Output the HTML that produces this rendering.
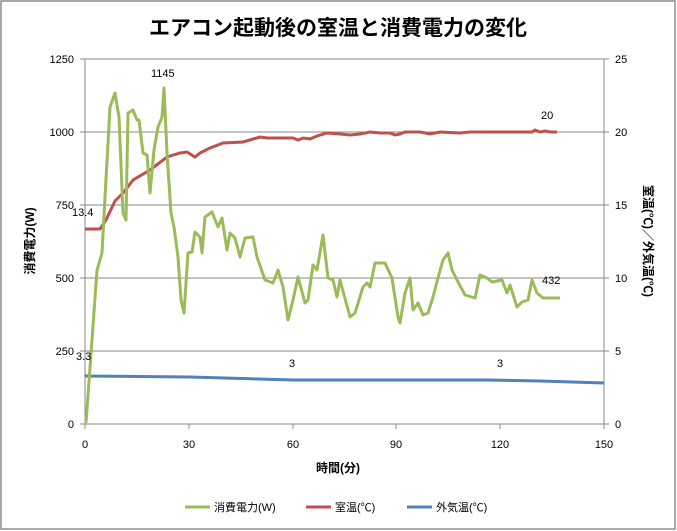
<!DOCTYPE html>
<html><head><meta charset="utf-8"><style>
body{margin:0;background:#fff;}
svg{display:block;font-family:"Liberation Sans","Noto Sans CJK JP",sans-serif;}
</style></head><body>
<svg width="677" height="531" viewBox="0 0 677 531">
<rect x="1" y="1" width="674" height="528" fill="#fff" stroke="#8c8c8c" stroke-width="1.5"/>
<text x="338" y="35" font-size="21" font-weight="bold" text-anchor="middle" fill="#000">エアコン起動後の室温と消費電力の変化</text>
<g stroke="#8a8a8a" stroke-width="1">
<line x1="85" y1="59" x2="604" y2="59"/><line x1="85" y1="132" x2="604" y2="132"/>
<line x1="85" y1="205" x2="604" y2="205"/><line x1="85" y1="278" x2="604" y2="278"/>
<line x1="85" y1="351" x2="604" y2="351"/><line x1="85" y1="424" x2="604" y2="424"/>
<line x1="85" y1="59" x2="85" y2="424"/><line x1="604" y1="59" x2="604" y2="424"/>
<line x1="80" y1="59" x2="85" y2="59"/><line x1="80" y1="132" x2="85" y2="132"/><line x1="80" y1="205" x2="85" y2="205"/><line x1="80" y1="278" x2="85" y2="278"/><line x1="80" y1="351" x2="85" y2="351"/><line x1="80" y1="424" x2="85" y2="424"/>
<line x1="604" y1="59" x2="609" y2="59"/><line x1="604" y1="132" x2="609" y2="132"/><line x1="604" y1="205" x2="609" y2="205"/><line x1="604" y1="278" x2="609" y2="278"/><line x1="604" y1="351" x2="609" y2="351"/><line x1="604" y1="424" x2="609" y2="424"/>
<line x1="85" y1="424" x2="85" y2="429"/><line x1="189" y1="424" x2="189" y2="429"/><line x1="293" y1="424" x2="293" y2="429"/><line x1="396" y1="424" x2="396" y2="429"/><line x1="500" y1="424" x2="500" y2="429"/><line x1="604" y1="424" x2="604" y2="429"/>
</g>
<g font-size="11" fill="#000" text-anchor="end">
<text x="74" y="63">1250</text><text x="74" y="136">1000</text><text x="74" y="209">750</text><text x="74" y="282">500</text><text x="74" y="355">250</text><text x="74" y="428">0</text>
</g>
<g font-size="11" fill="#000">
<text x="615" y="63">25</text><text x="615" y="136">20</text><text x="615" y="209">15</text><text x="615" y="282">10</text><text x="615" y="355">5</text><text x="615" y="428">0</text>
</g>
<g font-size="11" fill="#000" text-anchor="middle">
<text x="85" y="448">0</text><text x="189" y="448">30</text><text x="293" y="448">60</text><text x="396" y="448">90</text><text x="500" y="448">120</text><text x="604" y="448">150</text>
</g>
<text x="338" y="472" font-size="12" font-weight="bold" text-anchor="middle">時間(分)</text>
<text transform="translate(34,241) rotate(-90)" font-size="12" font-weight="bold" text-anchor="middle">消費電力(W)</text>
<text transform="translate(644,241) rotate(90)" font-size="12" font-weight="bold" text-anchor="middle">室温(℃)／外気温(℃)</text>
<polyline fill="none" stroke="#4f81bd" stroke-width="3" points="85,376 190,377 293,380 400,380 485,380 540,381 604,383"/>
<polyline fill="none" stroke="#c0504d" stroke-width="3" points="85,229 100,229 106,220 115,201 124,192 133,180 150,170 167,157 180,153 187,152 195,157 200,153 210,148 223,143 243,142 260,137 267,138 277,138 293,138 298,140 303,138 310,139 317,136 327,133 340,134 350,135 360,134 370,132 380,133 390,133 395,135 400,134 405,132 420,132 430,134 440,132 460,133 470,132 480,132 500,132 520,132 532,132 535,130 540,132 545,131 550,132 557,132"/>
<polyline fill="none" stroke="#9bbb59" stroke-width="3" stroke-linejoin="round" points="86,423 92,340 97,270 102,253 105,197 110,107 115,93 119,117 123,213 126,220 128,113 133,110 137,120 139,120 143,153 147,155 150,193 154,150 158,127 162,117 164,88 167,153 171,213 174,227 178,257 181,300 184,313 188,253 192,252 195,232 200,237 202,253 205,217 212,212 218,227 222,218 227,250 230,233 235,238 240,257 245,238 253,237 257,257 265,280 273,283 278,270 283,287 288,320 293,300 298,277 305,303 308,300 313,265 317,270 323,235 328,278 333,280 337,297 340,280 350,317 355,313 363,287 367,283 370,287 375,263 385,263 392,278 398,317 400,323 405,293 410,278 413,310 418,303 423,315 428,313 433,297 438,278 443,260 448,253 452,270 457,280 465,295 475,298 480,275 487,278 492,282 502,280 507,293 510,285 517,307 522,302 528,300 532,280 537,293 543,298 560,298"/>
<g font-size="11" fill="#000">
<text x="151" y="77">1145</text><text x="72" y="216">13.4</text><text x="76" y="360">3.3</text>
<text x="289" y="367">3</text><text x="497" y="367">3</text><text x="541" y="119">20</text><text x="542" y="284">432</text>
</g>
<g font-size="11" fill="#000">
<line x1="185" y1="507" x2="210" y2="507" stroke="#9bbb59" stroke-width="3"/><text x="214" y="511">消費電力(W)</text>
<line x1="306" y1="507" x2="331" y2="507" stroke="#c0504d" stroke-width="3"/><text x="335" y="511">室温(℃)</text>
<line x1="407" y1="507" x2="432" y2="507" stroke="#4f81bd" stroke-width="3"/><text x="436" y="511">外気温(℃)</text>
</g>
</svg>
</body></html>
